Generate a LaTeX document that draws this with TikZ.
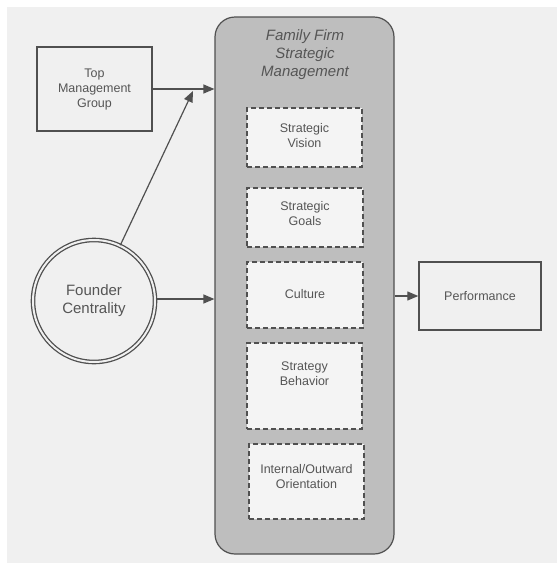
\documentclass[tikz,border=0pt]{standalone}
\usepackage{fontspec}
\setmainfont{Liberation Sans}
\usetikzlibrary{arrows.meta}
\definecolor{pagebg}{RGB}{240,240,240}
\definecolor{inkc}{RGB}{80,80,80}
\definecolor{textc}{RGB}{85,85,85}
\definecolor{bigfill}{RGB}{190,190,190}
\definecolor{innerfill}{RGB}{244,244,244}
\tikzset{
  plainbox/.style={draw=inkc, line width=1.4pt, minimum width=115pt, minimum height=84pt, inner sep=0pt},
  dbox/.style={draw=inkc, fill=innerfill, line width=1.3pt, dash pattern=on 5pt off 3pt, inner sep=0pt},
  txt/.style={text=textc, font=\fontsize{12.5}{15}\selectfont, align=center, inner sep=0pt},
  arr/.style={draw=inkc, line width=1.2pt, -{Triangle[length=11pt,width=9pt]}}
}
\begin{document}
\begin{tikzpicture}[x=1pt,y=-1pt]
\useasboundingbox (0,0) rectangle (557,563);
\fill[white] (0,0) rectangle (557,563);
\fill[pagebg] (7,7) rectangle (557,563);
% big container
\node[draw=inkc, fill=bigfill, line width=1.2pt, rounded corners=20pt, minimum width=179pt, minimum height=537pt, inner sep=0pt] (ffsm) at (304.5,285.5) {};
\node[txt, font=\fontsize{15}{18}\selectfont\itshape] (title) at (305,55) {Family Firm\\Strategic\\Management};
% inner dashed boxes
\node[dbox, minimum width=115pt, minimum height=59pt] (sv) at (304.5,137.5) {};
\node[txt] (svT) at (304.5,136) {Strategic\\Vision};
\node[dbox, minimum width=116pt, minimum height=59pt] (sg) at (305,217.5) {};
\node[txt] (sgT) at (305,213.5) {Strategic\\Goals};
\node[dbox, minimum width=116pt, minimum height=66pt] (cu) at (305,295) {};
\node[txt] (cuT) at (305,294) {Culture};
\node[dbox, minimum width=115pt, minimum height=86pt] (sb) at (304.5,386) {};
\node[txt] (sbT) at (304.5,374) {Strategy\\Behavior};
\node[dbox, minimum width=115pt, minimum height=75pt] (io) at (306.5,481.5) {};
\node[txt] (ioT) at (306.5,476.5) {Internal/Outward\\Orientation};
% left side
\node[plainbox, txt] (tmg) at (94.5,89) {Top\\Management\\Group};
\node[circle, draw=inkc, double=pagebg, double distance=2pt, line width=1.3pt, minimum size=122pt, inner sep=0pt, txt, font=\fontsize{15}{18}\selectfont] (fc) at (94,301) {Founder\\Centrality};
% right side
\node[plainbox, txt, minimum width=122pt, minimum height=68pt] (perf) at (480,296) {Performance};
% connectors
\coordinate (tip) at (193,91);
\draw[arr] (tmg.east |- 0,89) -- (ffsm.west |- 0,89);
\draw[arr] (fc) -- (tip);
\draw[arr] (fc.east |- 0,299) -- (ffsm.west |- 0,299);
\draw[arr] (ffsm.east |- perf.west) -- (perf.west);
\end{tikzpicture}
\end{document}
